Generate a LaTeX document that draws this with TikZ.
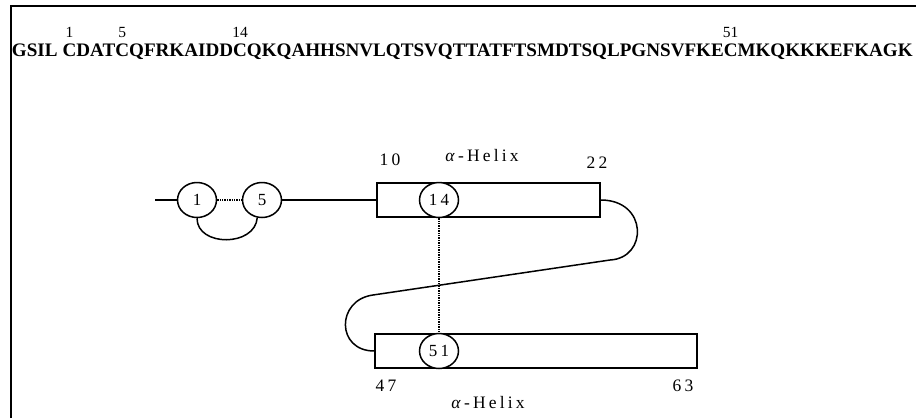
\documentclass[tikz,border=0pt]{standalone}
\usepackage{fontspec}
\setmainfont{Liberation Serif}
\newfontfamily\spacedfont[LetterSpace=18]{Liberation Serif}
\usetikzlibrary{shapes.geometric}
\tikzset{
  residue/.style={draw, ellipse, inner sep=0pt, minimum width=39pt, minimum height=35pt, font=\fontsize{17}{17}\spacedfont},
  helix/.style={draw, rectangle, minimum height=34pt},
  posnum/.style={font=\fontsize{17.5}{17.5}\spacedfont},
  bond/.style={densely dotted, line width=1.4pt},
  seqpart/.style={anchor=base west, inner sep=0pt, outer sep=0pt, font=\fontsize{19.1}{19.1}\bfseries}
}
\begin{document}
\begin{tikzpicture}[x=1pt, y=-1pt, line width=1.5pt]
    \useasboundingbox (0,0) rectangle (916,418);
    % Frame
    \draw[line width=2.5pt] (11,418) -- (11,6) -- (916,6);

    % Sequence, cut at the cysteines
    \node[seqpart] (q0) at (12,56) {GSIL\kern5pt};
    \node[seqpart] (cys1) at (q0.base east) {C};
    \node[seqpart] (q1) at (cys1.base east) {DAT};
    \node[seqpart] (cys5) at (q1.base east) {C};
    \node[seqpart] (q2) at (cys5.base east) {QFRKAIDD};
    \node[seqpart] (cys14) at (q2.base east) {C};
    \node[seqpart] (q3) at (cys14.base east) {QKQAHHSNVLQTSVQTTATFTSMDTSQLPGNSVFKE};
    \node[seqpart] (cys51) at (q3.base east) {C};
    \node[seqpart] (q4) at (cys51.base east) {MKQKKKEFKAGK};
    \foreach \n in {1,5,14,51}
      \node[above=5pt, inner sep=0pt, font=\fontsize{15.5}{15.5}\selectfont] (s\n) at (cys\n.north) {\n};

    % Disulfide 1--5
    \coordinate (nterm) at (155,200);
    \node[residue] (c1) at (197,200) {1};
    \node[residue] (c5) at (262,200) {5};
    \draw (nterm) -- (c1);
    \draw[bond] (c1) -- (c5);
    \draw (c1.south) .. controls (197,247) and (255,247) .. (c5.255);

    % Helix boxes
    \node[helix, minimum width=223pt] (h1) at (488.5,200) {};
    \node[helix, minimum width=322pt] (h2) at (536,351) {};
    \draw (c5) -- (h1.west);
    \draw (h1.east) .. controls (648,200) and (648,258) .. (610,260) -- (373,295)
      .. controls (336,300) and (336,351) .. (h2.west);

    % Disulfide 14--51
    \node[residue, fill=white] (c14) at (439,200) {14};
    \node[residue, fill=white] (c51) at (439,351) {51};
    \draw[bond] (c14) -- (c51);

    % Labels
    \node[posnum] (p10) at (390,160) {10};
    \node[posnum] (p22) at (597,163) {22};
    \node[posnum] (p47) at (386,386) {47};
    \node[posnum] (p63) at (683,386) {63};
    \node[posnum] (a1) at (482,156) {\textit{α}-Helix};
    \node[posnum] (a2) at (488,403) {\textit{α}-Helix};
\end{tikzpicture}
\end{document}
